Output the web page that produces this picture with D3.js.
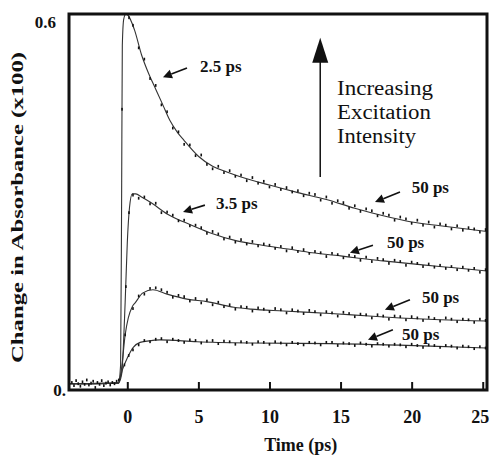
<!DOCTYPE html>
<html>
<head>
<meta charset="utf-8">
<script src="https://cdn.jsdelivr.net/npm/d3@7"></script>
<style>
  body { margin: 0; background: #fff; }
  svg { display: block; }
</style>
</head>
<body>
<svg id="chart" width="490" height="461"></svg>
<script>
// ---- Transient absorbance traces at four excitation intensities ----

// x-axis ticks (ps) and y-axis tick labels
const xTicks = [0, 5, 10, 15, 20, 25];
const yTickValues = [0, 0.6];
const yTickLabels = ["0.", "0.6"];

// pre-zero baseline points (shared by all traces)
const baseTimes  = [-3.9,-3.75,-3.6,-3.45,-3.3,-3.15,-3.0,-2.85,-2.7,-2.55,-2.4,-2.25,-2.1,-1.95,-1.8,-1.65,-1.5,-1.35,-1.2,-1.05,-0.9,-0.75,-0.6];
const baseValues = [0.012,0.007,0.015,0.010,0.006,0.013,0.009,0.016,0.008,0.011,0.014,0.004,0.012,0.009,0.015,0.007,0.011,0.013,0.008,0.012,0.010,0.014,0.016];

// sampling times after excitation (ps)
const gridTimes = [0.4,0.8,1.2,1.6,2.0,2.4,2.8,3.2,3.6,4.0,4.4,4.8,5.2,5.6,6.0,6.4,6.8,7.2,7.6,8.0,
  8.4,8.8,9.2,9.6,10.0,10.4,10.8,11.2,11.6,12.0,12.4,12.8,13.2,13.6,14.0,14.4,14.8,15.2,15.6,16.0,
  16.4,16.8,17.2,17.6,18.0,18.4,18.8,19.2,19.6,20.0,20.4,20.8,21.2,21.6,22.0,22.4,22.8,23.2,23.6,24.0,
  24.4,24.8,25.2];

// measured points, highest intensity (A) to lowest (D)
const dotsA = [0.582,0.546,0.528,0.497,0.486,0.455,0.444,0.418,0.412,0.392,0.391,0.374,0.375,0.360,0.353,0.357,0.347,0.350,0.341,0.343,
  0.334,0.339,0.330,0.333,0.324,0.328,0.320,0.323,0.316,0.318,0.310,0.314,0.312,0.303,0.308,0.298,0.302,0.299,0.290,0.294,
  0.285,0.289,0.286,0.278,0.282,0.279,0.271,0.276,0.273,0.266,0.271,0.263,0.268,0.260,0.265,0.263,0.257,0.262,0.255,0.259,
  0.257,0.252,0.256];
const dotsB = [0.311,0.306,0.308,0.297,0.298,0.283,0.284,0.279,0.270,0.271,0.262,0.263,0.259,0.250,0.253,0.249,0.241,0.244,0.236,0.240,
  0.233,0.237,0.230,0.233,0.231,0.226,0.229,0.222,0.227,0.221,0.224,0.218,0.221,0.219,0.213,0.218,0.216,0.211,0.215,0.213,
  0.207,0.212,0.205,0.210,0.208,0.202,0.207,0.205,0.199,0.204,0.202,0.197,0.201,0.196,0.199,0.194,0.197,0.192,0.196,0.191,
  0.194,0.188,0.192];
const dotsC = [0.130,0.150,0.153,0.162,0.163,0.160,0.156,0.148,0.151,0.149,0.142,0.146,0.139,0.144,0.136,0.140,0.133,0.136,0.129,0.133,
  0.132,0.126,0.131,0.129,0.125,0.130,0.128,0.123,0.128,0.126,0.122,0.127,0.125,0.120,0.125,0.123,0.118,0.124,0.122,0.117,
  0.121,0.120,0.115,0.120,0.118,0.113,0.118,0.117,0.112,0.117,0.115,0.111,0.116,0.114,0.110,0.115,0.113,0.109,0.113,0.112,
  0.108,0.113,0.111];
const dotsD = [0.064,0.072,0.079,0.077,0.081,0.082,0.077,0.081,0.079,0.076,0.080,0.079,0.075,0.078,0.079,0.074,0.078,0.077,0.073,0.077,
  0.076,0.073,0.077,0.076,0.073,0.077,0.075,0.072,0.076,0.074,0.072,0.076,0.075,0.072,0.076,0.076,0.071,0.075,0.074,0.071,
  0.075,0.073,0.070,0.074,0.073,0.070,0.073,0.072,0.069,0.073,0.071,0.068,0.072,0.071,0.068,0.071,0.070,0.067,0.070,0.069,
  0.066,0.069,0.067];

// points on the rising edge [t, value]
const riseA = [[-0.37, 0.448], [0.12, 0.594]];
const riseB = [[-0.1, 0.165], [0.12, 0.283]];
const riseC = [[-0.15, 0.088]];
const riseD = [[-0.2, 0.040], [0.1, 0.055]];

// fitted curves [t, value]
const fitA = [[-4.1,0.010],[-0.63,0.011],[-0.47,0.04],[-0.4,0.3],[-0.35,0.55],[-0.25,0.592],[-0.1,0.6],[0.05,0.598],
  [0.5,0.575],[1,0.535],[1.5,0.505],[2,0.48],[2.5,0.455],[3,0.43],[3.5,0.412],[4,0.398],[5,0.373],[6,0.357],[7,0.348],
  [8,0.34],[10,0.327],[12,0.315],[14,0.304],[16,0.29],[18,0.278],[20,0.268],[22,0.262],[25.3,0.253]];
const fitB = [[-4.1,0.010],[-0.63,0.011],[-0.4,0.025],[-0.15,0.14],[0,0.235],[0.15,0.29],[0.35,0.313],[0.6,0.313],
  [1,0.308],[1.6,0.3],[2.8,0.281],[4.4,0.264],[5.8,0.251],[7.7,0.238],[9.5,0.231],[11.3,0.225],[13,0.219],[15,0.214],
  [16,0.211],[18,0.206],[20.6,0.2],[23,0.195],[25.3,0.19]];
const fitC = [[-4.1,0.010],[-0.63,0.011],[-0.4,0.035],[-0.15,0.088],[0.07,0.115],[0.35,0.133],[0.55,0.139],[1.1,0.155],
  [1.8,0.16],[2.8,0.153],[4.2,0.145],[5.6,0.141],[7.5,0.132],[8.7,0.129],[11,0.126],[14.3,0.122],[17,0.118],[19.2,0.115],
  [22,0.112],[25.3,0.11]];
const fitD = [[-4.1,0.010],[-0.63,0.011],[-0.35,0.032],[0,0.051],[0.42,0.068],[0.9,0.076],[1.4,0.078],[2.3,0.08],
  [4.9,0.077],[8.7,0.075],[14.3,0.074],[21.3,0.07],[25.3,0.067]];

// lifetime annotations: label, text anchor, arrow tail, arrow tip  [t, value]
const annLabels = ["2.5 ps", "3.5 ps", "50 ps", "50 ps", "50 ps", "50 ps"];
const annTextAt = [[5.11,0.507],[6.24,0.289],[20.0,0.314],[18.26,0.227],[20.72,0.139],[19.32,0.080]];
const annTail   = [[4.20,0.514],[5.46,0.295],[19.18,0.316],[17.28,0.231],[19.88,0.144],[18.68,0.096]];
const annTip    = [[2.51,0.499],[3.92,0.284],[17.42,0.300],[15.66,0.219],[18.12,0.128],[16.93,0.080]];

// "Increasing Excitation Intensity" arrow and note
const intensityArrow = { t: 13.57, from: 0.340, to: 0.562 };
const noteLines = ["Increasing", "Excitation", "Intensity"];
const noteWidths = [96, 94, 79];
const noteAt = [14.75, 0.4707];

// ---- drawing ----
const svg = d3.select("#chart");
const plot = { left: 69, right: 487, top: 14, bottom: 390 };
const x = d3.scaleLinear().domain([-4.1, 25.3]).range([plot.left, plot.right]);
const y = d3.scaleLinear().domain([0, 0.6]).range([plot.bottom, plot.top]);

const serif = "'Liberation Serif', 'Times New Roman', serif";
const ink = "#111";

svg.append("defs").append("clipPath").attr("id", "plotClip")
  .append("rect")
  .attr("x", plot.left).attr("y", plot.top)
  .attr("width", plot.right - plot.left).attr("height", plot.bottom - plot.top);

const g = svg.append("g").attr("clip-path", "url(#plotClip)");

const line = d3.line()
  .x(d => x(d[0])).y(d => y(d[1]))
  .curve(d3.curveMonotoneX);

[fitA, fitB, fitC, fitD].forEach(f => {
  g.append("path")
    .attr("d", line(f))
    .attr("fill", "none")
    .attr("stroke", "#333")
    .attr("stroke-width", 1.1);
});

function drawDots(points) {
  g.append("g").selectAll("rect").data(points).join("rect")
    .attr("x", d => x(d[0]) - 0.8)
    .attr("y", d => y(d[1]) - 1.4)
    .attr("width", 1.6)
    .attr("height", 2.8)
    .attr("fill", ink);
}
drawDots(baseTimes.map((t, i) => [t, baseValues[i]]));
[[dotsA, riseA], [dotsB, riseB], [dotsC, riseC], [dotsD, riseD]].forEach(([vals, rise]) => {
  drawDots(rise.concat(gridTimes.map((t, i) => [t, vals[i]])));
});

// frame
svg.append("rect")
  .attr("x", plot.left).attr("y", plot.top)
  .attr("width", plot.right - plot.left).attr("height", plot.bottom - plot.top)
  .attr("fill", "none").attr("stroke", ink).attr("stroke-width", 3);

// x axis: inward ticks, labels below
const xAxis = svg.append("g")
  .attr("transform", `translate(0,${plot.bottom})`)
  .call(d3.axisBottom(x).tickValues(xTicks).tickSizeInner(-8).tickSizeOuter(0).tickPadding(20));
xAxis.select(".domain").remove();
xAxis.selectAll(".tick line").attr("stroke", ink).attr("stroke-width", 2);
xAxis.selectAll(".tick text")
  .attr("fill", ink)
  .style("font-family", serif).style("font-weight", "bold").style("font-size", "18px");
// keep the last label inside the page edge
xAxis.selectAll(".tick text").filter(d => d === xTicks[xTicks.length - 1]).attr("dx", -3);

// y tick labels
const yLabelX = [66, 56];
const yLabelDy = [6, 14];
svg.append("g").selectAll("text").data(yTickValues).join("text")
  .attr("x", (d, i) => yLabelX[i])
  .attr("y", (d, i) => y(d) + yLabelDy[i])
  .attr("text-anchor", "end")
  .attr("fill", ink)
  .style("font-family", serif).style("font-weight", "bold").style("font-size", "17px")
  .text((d, i) => yTickLabels[i]);

// axis titles
svg.append("text")
  .attr("x", x(12.2)).attr("y", 451)
  .attr("text-anchor", "middle").attr("fill", ink)
  .style("font-family", serif).style("font-weight", "bold").style("font-size", "18px")
  .text("Time (ps)");

svg.append("text")
  .attr("transform", `translate(23,${(52 + 363) / 2}) rotate(-90)`)
  .attr("text-anchor", "middle").attr("fill", ink)
  .attr("textLength", 311).attr("lengthAdjust", "spacingAndGlyphs")
  .style("font-family", serif).style("font-weight", "bold").style("font-size", "17px")
  .text("Change in Absorbance (x100)");

// arrowheads
function arrowHead(tip, tail, len, half) {
  const dx = tip[0] - tail[0], dy = tip[1] - tail[1];
  const L = Math.hypot(dx, dy), ux = dx / L, uy = dy / L;
  const bx = tip[0] - ux * len, by = tip[1] - uy * len;
  return [[tip[0], tip[1]], [bx - uy * half, by + ux * half], [bx + uy * half, by - ux * half]];
}

const ann = svg.append("g");
annLabels.forEach((lab, i) => {
  const tail = [x(annTail[i][0]), y(annTail[i][1])];
  const tip = [x(annTip[i][0]), y(annTip[i][1])];
  const head = arrowHead(tip, tail, 9, 4.5);
  const base = [(head[1][0] + head[2][0]) / 2, (head[1][1] + head[2][1]) / 2];
  ann.append("line")
    .attr("x1", tail[0]).attr("y1", tail[1]).attr("x2", base[0]).attr("y2", base[1])
    .attr("stroke", ink).attr("stroke-width", 1.6);
  ann.append("polygon").attr("points", head.map(p => p.join(",")).join(" ")).attr("fill", ink);
  ann.append("text")
    .attr("x", x(annTextAt[i][0])).attr("y", y(annTextAt[i][1]))
    .attr("fill", ink)
    .style("font-family", serif).style("font-weight", "bold").style("font-size", "17px")
    .text(lab);
});

// intensity arrow
const ax = x(intensityArrow.t);
const aTail = [ax, y(intensityArrow.from)];
const aTip = [ax, y(intensityArrow.to)];
const bigHead = arrowHead(aTip, aTail, 25, 8);
ann.append("line")
  .attr("x1", ax).attr("y1", aTail[1]).attr("x2", ax).attr("y2", aTip[1] + 24)
  .attr("stroke", ink).attr("stroke-width", 1.5);
ann.append("polygon").attr("points", bigHead.map(p => p.join(",")).join(" ")).attr("fill", ink);

ann.append("g").selectAll("text").data(noteLines).join("text")
  .attr("x", x(noteAt[0]))
  .attr("y", (d, i) => y(noteAt[1]) + i * 24)
  .attr("fill", ink)
  .attr("textLength", (d, i) => noteWidths[i]).attr("lengthAdjust", "spacingAndGlyphs")
  .style("font-family", serif).style("font-size", "20px")
  .text(d => d);
</script>
</body>
</html>
